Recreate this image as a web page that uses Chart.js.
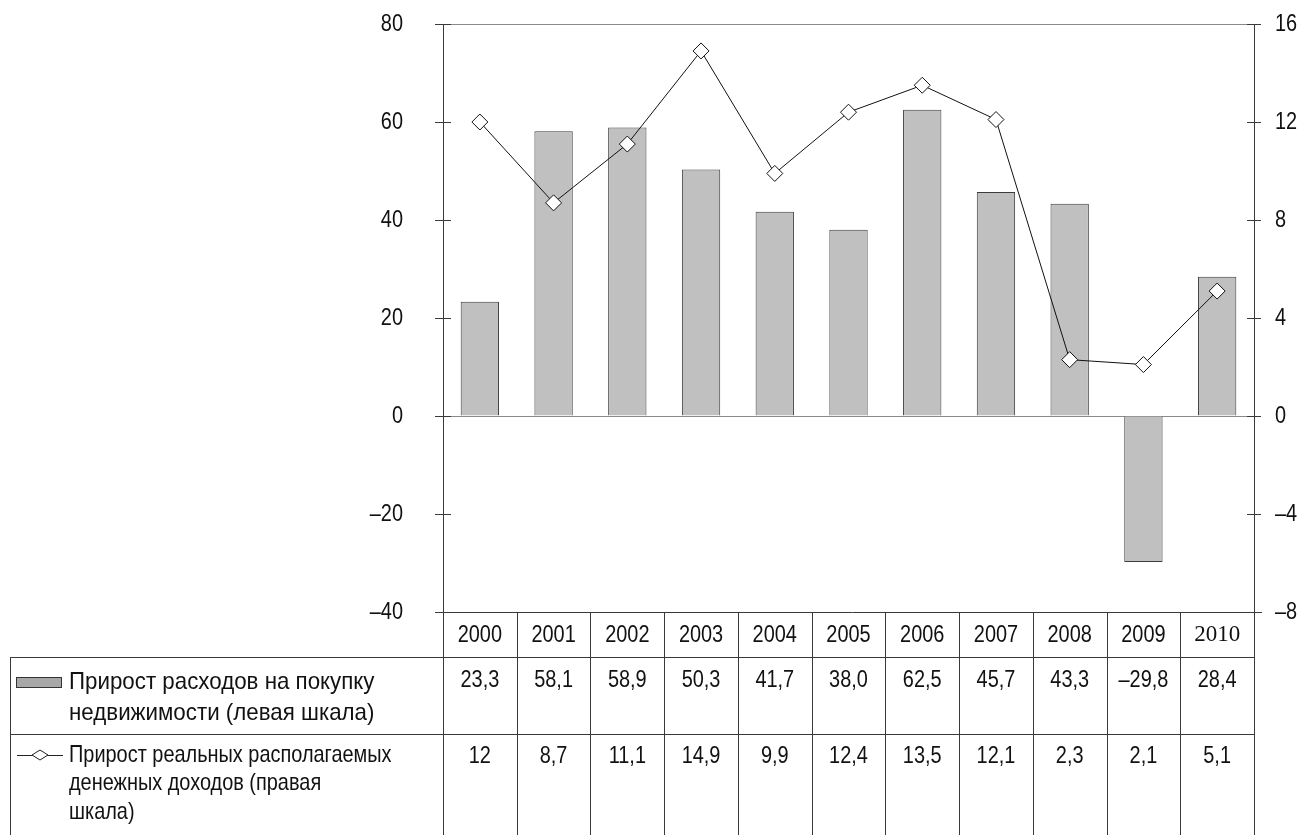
<!DOCTYPE html>
<html lang="ru">
<head>
<meta charset="utf-8">
<title>Прирост расходов на покупку недвижимости</title>
<script src="https://cdn.jsdelivr.net/npm/chart.js@4"></script>
<style>
  html, body { margin: 0; padding: 0; background: #fff; }
  #wrap { width: 1298px; height: 835px; }
</style>
</head>
<body>
<div id="wrap"><canvas id="chart" width="1298" height="835"></canvas></div>
<script>
// years, spending growth (left scale, %), real income growth (right scale, %)
const YEARS = ["2000", "2001", "2002", "2003", "2004", "2005", "2006", "2007", "2008", "2009", "2010"];
const HOUSING = [23.3, 58.1, 58.9, 50.3, 41.7, 38.0, 62.5, 45.7, 43.3, -29.8, 28.4];
const INCOME = [12, 8.7, 11.1, 14.9, 9.9, 12.4, 13.5, 12.1, 2.3, 2.1, 5.1];

const LEFT_TICKS = { min: -40, max: 80, step: 20 };
const RIGHT_TICKS = { min: -8, max: 16, step: 4 };

const HOUSING_LABEL = ["Прирост расходов на покупку", "недвижимости (левая шкала)"];
const INCOME_LABEL = ["Прирост реальных располагаемых", "денежных доходов (правая", "шкала)"];

const SANS = '"Liberation Sans", Arial, sans-serif';
const SERIF = '"Liberation Serif", "Times New Roman", serif';
const SX = 0.83; // narrow glyphs for numbers
const LINE_COLOR = "#3a3a3a";

function dash(v) {
  return v < 0 ? "\u2013" + Math.abs(v) : String(v);
}
function fmt1(v) {
  const s = Math.abs(v).toFixed(1).replace(".", ",");
  return v < 0 ? "\u2013" + s : s;
}
function fmtRaw(v) {
  return String(v).replace(".", ",");
}

function text(ctx, str, x, y, align, family, size, sx) {
  ctx.save();
  ctx.translate(x, y);
  ctx.scale(sx || SX, 1);
  ctx.font = size + "px " + family;
  ctx.fillStyle = "#111";
  ctx.textAlign = align;
  ctx.textBaseline = "middle";
  ctx.fillText(str, 0, 0);
  ctx.restore();
}

function hline(ctx, x1, x2, y, color) {
  ctx.beginPath();
  ctx.strokeStyle = color || LINE_COLOR;
  ctx.lineWidth = 1;
  ctx.moveTo(x1, Math.round(y) + 0.5);
  ctx.lineTo(x2, Math.round(y) + 0.5);
  ctx.stroke();
}
function vline(ctx, x, y1, y2, color) {
  ctx.beginPath();
  ctx.strokeStyle = color || LINE_COLOR;
  ctx.lineWidth = 1;
  ctx.moveTo(Math.round(x) + 0.5, y1);
  ctx.lineTo(Math.round(x) + 0.5, y2);
  ctx.stroke();
}

// axis labels, crossing tick marks and the data table under the plot
const tablePlugin = {
  id: "dataTable",
  afterDraw(chart) {
    const ctx = chart.ctx;
    const area = chart.chartArea;
    const xs = chart.scales.x;
    const yl = chart.scales.y;
    const yr = chart.scales.y1;
    const H = chart.height;

    // left axis
    yl.ticks.forEach(t => {
      const py = yl.getPixelForValue(t.value);
      hline(ctx, area.left - 8, area.left + 8, py);
      text(ctx, dash(t.value), area.left - 40, py, "right", SANS, 24);
    });
    // right axis
    yr.ticks.forEach(t => {
      const py = yr.getPixelForValue(t.value);
      hline(ctx, area.right - 7, area.right + 7, py);
      text(ctx, dash(t.value), area.right + 21, py, "left", SANS, 24);
    });

    const step = xs.getPixelForValue(1) - xs.getPixelForValue(0);
    const top = area.bottom;
    const row1 = top + 45;
    const row2 = row1 + 77;
    const tableLeft = 10;

    hline(ctx, area.left, area.right + 8, top);
    hline(ctx, tableLeft, area.right, row1);
    hline(ctx, tableLeft, area.right, row2);
    vline(ctx, tableLeft, row1, H);
    for (let i = 0; i <= YEARS.length; i++) {
      const bx = xs.getPixelForValue(0) - step / 2 + i * step;
      vline(ctx, bx, top, H);
    }

    YEARS.forEach((yr_, i) => {
      const cx = xs.getPixelForValue(i);
      const serif = i === YEARS.length - 1;
      if (serif) {
        ctx.save();
        ctx.font = "23px " + SERIF;
        ctx.fillStyle = "#111";
        ctx.textAlign = "center";
        ctx.textBaseline = "middle";
        ctx.fillText(yr_, cx, top + 23);
        ctx.restore();
      } else {
        text(ctx, yr_, cx, top + 23, "center", SANS, 24);
      }
      text(ctx, fmt1(HOUSING[i]), cx, row1 + 23, "center", SANS, 24);
      text(ctx, fmtRaw(INCOME[i]), cx, row2 + 22, "center", SANS, 24);
    });

    // row headers with legend keys
    const hy = row1 + 25;
    ctx.save();
    ctx.fillStyle = "#a8a8a8";
    ctx.strokeStyle = "#333";
    ctx.lineWidth = 1;
    ctx.fillRect(16, hy - 5, 46, 11);
    ctx.strokeRect(16.5, hy - 4.5, 45, 10);
    ctx.restore();
    HOUSING_LABEL.forEach((s, k) => text(ctx, s, 69, hy + k * 31, "left", SANS, 24, 0.93));

    const ky = row2 + 21;
    hline(ctx, 17, 63, ky - 0.5, "#222");
    ctx.save();
    ctx.beginPath();
    ctx.moveTo(32, ky);
    ctx.lineTo(40, ky - 5);
    ctx.lineTo(48, ky);
    ctx.lineTo(40, ky + 5);
    ctx.closePath();
    ctx.fillStyle = "#fff";
    ctx.fill();
    ctx.strokeStyle = "#222";
    ctx.stroke();
    ctx.restore();
    INCOME_LABEL.forEach((s, k) => text(ctx, s, 69, ky + k * 28.5, "left", SANS, 24, 0.83));
  }
};

new Chart(document.getElementById("chart"), {
  data: {
    labels: YEARS,
    datasets: [
      {
        type: "line",
        label: INCOME_LABEL.join(" "),
        data: INCOME,
        yAxisID: "y1",
        order: 0,
        borderColor: "#111",
        borderWidth: 1,
        tension: 0,
        pointStyle: "rectRot",
        pointRadius: 8,
        pointBackgroundColor: "#fff",
        pointBorderColor: "#111",
        pointBorderWidth: 1,
      },
      {
        type: "bar",
        label: HOUSING_LABEL.join(" "),
        data: HOUSING,
        yAxisID: "y",
        order: 1,
        backgroundColor: "#c0c0c0",
        borderColor: "#3c3c3c",
        borderWidth: 1,
        categoryPercentage: 1,
        barPercentage: 0.52,
      },
    ],
  },
  options: {
    responsive: false,
    animation: false,
    events: [],
    layout: {
      autoPadding: false,
      padding: { left: 0, right: 0, top: 24, bottom: 223 },
    },
    plugins: {
      legend: { display: false },
      tooltip: { enabled: false },
    },
    scales: {
      x: {
        display: false,
        offset: true,
      },
      y: {
        position: "left",
        min: LEFT_TICKS.min,
        max: LEFT_TICKS.max,
        afterFit: s => { s.width = 443; },
        afterBuildTicks: s => {
          s.ticks = [];
          for (let v = LEFT_TICKS.min; v <= LEFT_TICKS.max; v += LEFT_TICKS.step) s.ticks.push({ value: v });
        },
        ticks: { display: false },
        border: { display: true, color: LINE_COLOR, width: 1 },
        grid: {
          drawTicks: false,
          color: c => (c.tick && (c.tick.value === 0 || c.tick.value === LEFT_TICKS.max)) ? "#8a8a8a" : "rgba(0,0,0,0)",
        },
      },
      y1: {
        position: "right",
        min: RIGHT_TICKS.min,
        max: RIGHT_TICKS.max,
        afterFit: s => { s.width = 44; },
        afterBuildTicks: s => {
          s.ticks = [];
          for (let v = RIGHT_TICKS.min; v <= RIGHT_TICKS.max; v += RIGHT_TICKS.step) s.ticks.push({ value: v });
        },
        ticks: { display: false },
        border: { display: true, color: LINE_COLOR, width: 1 },
        grid: { display: false },
      },
    },
  },
  plugins: [tablePlugin],
});
</script>
</body>
</html>
